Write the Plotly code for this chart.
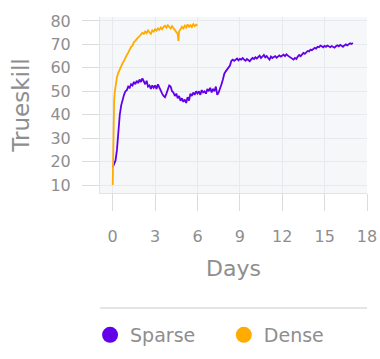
import numpy as np
import plotly.graph_objects as go

# ---- data ----
sparse_days = np.round(np.arange(0, 17.01, 0.1), 1)
sparse_trueskill = [
    17.5, 19.5, 20.5, 25, 33, 40, 44, 46.5, 48.5, 50,
    50.5, 52, 51.5, 53, 52.5, 54, 53, 54.5, 53.5, 55,
    54, 55.5, 54, 53, 54.5, 52, 52.5, 51, 52.5, 51.5,
    52.5, 51, 53, 51.5, 50, 49, 48, 47.5, 49, 51,
    52.5, 52, 50, 49.5, 48, 49, 47, 48, 46, 47,
    45.5, 46.5, 45, 47.5, 46, 49, 48, 49.5, 48.5, 50,
    49, 50, 48.5, 50.5, 49.5, 50, 49, 51, 50, 51.5,
    49.5, 51, 50, 52, 48.5, 49.5, 51, 53, 55, 57.5,
    58.5, 59.5, 60, 61, 63, 63.5, 63, 63.5, 64, 63.2,
    63.8, 63.5, 64.2, 63.5, 63, 63.8, 63.2, 62.8, 63.6, 64.2,
    63.8, 64.5, 64, 64.8, 65.2, 64.2, 64.8, 65.5, 64.5, 65,
    64.2, 63.5, 64.8, 64.2, 64.6, 65, 64.3, 64.8, 65.3, 64.8,
    65.2, 65.6, 65, 65.8, 65.2, 64.8, 64.4, 64, 63.5, 64.2,
    63.8, 64.8, 65.5, 65, 66, 66.4, 66, 66.8, 67.2, 67,
    67.8, 67.5, 68.2, 68.5, 68.2, 69, 68.8, 69.5, 69.2, 68.8,
    69.4, 69, 69.5, 69.2, 68.8, 69.3, 69, 68.6, 69.2, 69.6,
    69.2, 69.8, 69.4, 69, 69.6, 70, 69.6, 70.2, 70.5, 70.2,
    70.6,
]

dense_days = [
    0.0, 0.03, 0.06, 0.1, 0.15, 0.2, 0.3, 0.4, 0.5, 0.6,
    0.7, 0.8, 0.9, 1.0, 1.1, 1.2, 1.3, 1.4, 1.5, 1.6,
    1.7, 1.8, 1.9, 2.0, 2.1, 2.2, 2.3, 2.4, 2.5, 2.6,
    2.7, 2.8, 2.9, 3.0, 3.1, 3.2, 3.3, 3.4, 3.5, 3.6,
    3.7, 3.8, 3.9, 4.0, 4.1, 4.2, 4.3, 4.4, 4.5, 4.6,
    4.65, 4.7, 4.8, 4.9, 5.0, 5.1, 5.2, 5.3, 5.4, 5.5,
    5.6, 5.7, 5.8, 5.9, 6.0,
]
dense_trueskill = [
    10, 25, 38, 46, 50, 53, 56, 58, 59.5, 61,
    62, 63, 64.5, 65.5, 66.5, 68, 69, 69.5, 71, 71.5,
    72.5, 73, 73.5, 74.5, 75, 74.5, 75.5, 74.8, 76, 75.2,
    74.5, 76, 75.5, 76.5, 75.8, 76.8, 76.2, 77.2, 76.5, 77.5,
    78, 77.2, 78.2, 77.5, 76.8, 77.8, 77, 76.5, 75.5, 74.5,
    71.5, 75.5, 76.5, 77.5, 76.8, 78, 77.2, 78.5, 77.5, 78.2,
    77.4, 78.6, 77.8, 78.4, 78,
]

x_ticks = [0, 3, 6, 9, 12, 15, 18]
y_ticks = [10, 20, 30, 40, 50, 60, 70, 80]

series_names = ["Sparse", "Dense"]
series_colors = ["#6200EA", "#FFAB00"]

FONT = "DejaVu Sans, sans-serif"
GRAY = "#8e8e8e"

fig = go.Figure()
for days, vals, name, color in [
    (sparse_days, sparse_trueskill, series_names[0], series_colors[0]),
    (dense_days, dense_trueskill, series_names[1], series_colors[1]),
]:
    fig.add_trace(go.Scatter(x=days, y=vals, mode="lines", name=name,
                             line=dict(color=color, width=1.8),
                             showlegend=False, legendgroup=name))
for name, color, leg in zip(series_names, series_colors, ["legend", "legend2"]):
    fig.add_trace(go.Scatter(x=[None], y=[None], mode="markers", name=name,
                             marker=dict(color=color, size=16),
                             legendgroup=name, showlegend=True, legend=leg))

legend_common = dict(orientation="h", xref="container", yref="container",
                     xanchor="left", y=0.0669, yanchor="middle",
                     font=dict(size=19, color=GRAY), bgcolor="rgba(0,0,0,0)")

fig.update_layout(
    width=380, height=359,
    margin=dict(l=100, r=13, t=17, b=166),
    paper_bgcolor="white",
    plot_bgcolor="#f5f7f9",
    font=dict(family=FONT, color=GRAY, size=16),
    xaxis=dict(range=[-0.9, 18], tickvals=x_ticks, ticks="outside",
               ticklen=17, tickcolor="#dcdcdc", tickwidth=1,
               gridcolor="#e6e9ee", gridwidth=1, zeroline=False,
               showline=True, linecolor="#e3e3e3", linewidth=1,
               automargin=False, ticklabelstandoff=12,
               tickfont=dict(size=16, color=GRAY),
               title=dict(text="Days", font=dict(size=22, color=GRAY), standoff=15)),
    yaxis=dict(range=[6.6, 81.7], tickvals=y_ticks, ticks="outside",
               ticklen=17, tickcolor="#dcdcdc", tickwidth=1,
               gridcolor="#e6e9ee", gridwidth=1, zeroline=False,
               showline=True, linecolor="#e3e3e3", linewidth=1,
               automargin=False, ticklabelstandoff=8,
               tickfont=dict(size=16, color=GRAY),
               title=dict(text="Trueskill", font=dict(size=23, color=GRAY), standoff=14)),
    legend=dict(x=0.237, **legend_common),
    legend2=dict(x=0.589, **legend_common),
    shapes=[dict(type="line", xref="paper", yref="paper", x0=0, x1=1,
                 y0=-0.653, y1=-0.653, line=dict(color="#dddddd", width=1.5))],
)

fig.write_html("out.html", config={"displayModeBar": False},
               post_script="document.body.style.margin='0';document.body.style.overflow='hidden';")
